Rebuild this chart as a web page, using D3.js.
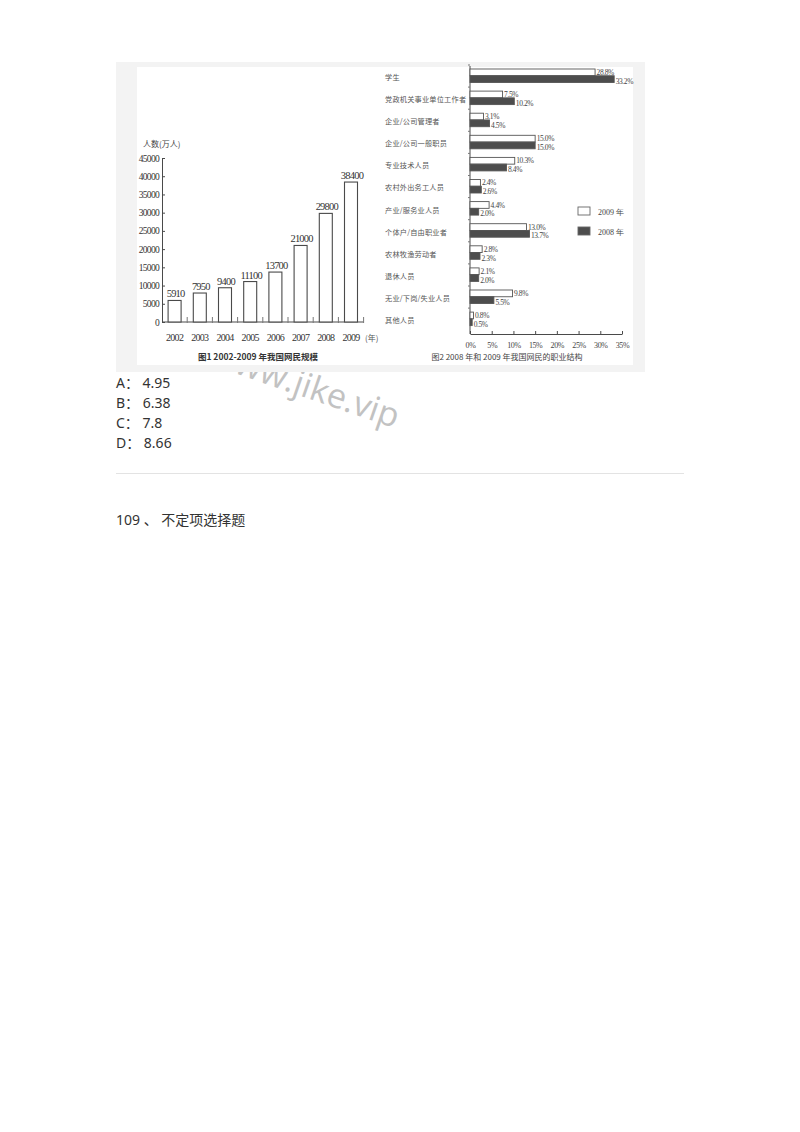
<!DOCTYPE html>
<html>
<head>
<meta charset="utf-8">
<title>网民规模与职业结构</title>
<style>
    body { margin: 0; background: #fff; }
    svg { display: block; }
    .serif { font-family: "Liberation Serif", "DejaVu Serif", serif; }
    .cjk { font-family: "Noto Sans CJK SC", sans-serif; }
    .page { font-family: "Noto Sans", "Noto Sans CJK SC", sans-serif; fill: #333; font-size: 14px; }
</style>
</head>
<body>
<svg width="800" height="1132"></svg>
<script src="https://d3js.org/d3.v7.min.js"></script>
<script>
    // figure 1: netizens 2002-2009 (10k people)
    var years = ["2002", "2003", "2004", "2005", "2006", "2007", "2008", "2009"];
    var users = [5910, 7950, 9400, 11100, 13700, 21000, 29800, 38400];
    var userTicks = [0, 5000, 10000, 15000, 20000, 25000, 30000, 35000, 40000, 45000];

    // figure 2: occupation structure, 2009 vs 2008 (%)
    var jobs = ["学生", "党政机关事业单位工作者", "企业/公司管理者", "企业/公司一般职员",
        "专业技术人员", "农村外出务工人员", "产业/服务业人员", "个体户/自由职业者",
        "农林牧渔劳动者", "退休人员", "无业/下岗/失业人员", "其他人员"];
    var share2009 = [28.8, 7.5, 3.1, 15.0, 10.3, 2.4, 4.4, 13.0, 2.8, 2.1, 9.8, 0.8];
    var share2008 = [33.2, 10.2, 4.5, 15.0, 8.4, 2.6, 2.0, 13.7, 2.3, 2.0, 5.5, 0.5];
    var pctTicks = [0, 5, 10, 15, 20, 25, 30, 35];
    var seriesNames = ["2009", "2008"];

    // question options below the picture
    var options = ["A： 4.95", "B： 6.38", "C： 7.8", "D： 8.66"];

    var svg = d3.select("svg");
    var ink = "#4a4a4a";

    // watermark sits under the scanned picture
    svg.append("text")
        .attr("transform", "translate(208,364) rotate(19)")
        .attr("font-family", "Open Sans, sans-serif")
        .attr("font-size", 34)
        .attr("fill", "#c2c2c2")
        .text("www.jike.vip");

    // picture frame
    svg.append("rect").attr("x", 116).attr("y", 62).attr("width", 529).attr("height", 310).attr("fill", "#f3f3f3");
    svg.append("rect").attr("x", 137).attr("y", 67).attr("width", 496).attr("height", 298).attr("fill", "#fff");

    // ---------- figure 1 ----------
    var x = d3.scaleBand().domain(years).range([162, 363.6]).paddingInner(0.484).paddingOuter(0.242);
    var y = d3.scaleLinear().domain([0, 45000]).range([322, 158]);

    var g1 = svg.append("g");

    var yAxis = d3.axisLeft(y).tickValues(userTicks).tickFormat(d3.format("d"))
        .tickSize(-3).tickSizeOuter(0).tickPadding(3);
    g1.append("g").attr("transform", "translate(162,0)").call(yAxis)
        .call(function(g) {
            g.select(".domain").attr("stroke", ink);
            g.selectAll(".tick line").attr("stroke", ink);
            g.selectAll("text").attr("class", "serif").attr("font-size", 9.5)
                .attr("letter-spacing", -0.7).attr("fill", "#333");
        });

    // x baseline and small ticks between the bars
    g1.append("line").attr("x1", x.range()[0]).attr("x2", x.range()[1])
        .attr("y1", y(0)).attr("y2", y(0)).attr("stroke", ink);
    g1.selectAll(".sep").data(years).enter().append("line")
        .attr("x1", function(d, i) { return x.range()[0] + (i + 1) * x.step(); })
        .attr("x2", function(d, i) { return x.range()[0] + (i + 1) * x.step(); })
        .attr("y1", y(0) - 5).attr("y2", y(0) + 1)
        .attr("stroke", "#777");

    g1.selectAll(".bar").data(users).enter().append("rect")
        .attr("x", function(d, i) { return x(years[i]); })
        .attr("y", function(d) { return y(d); })
        .attr("width", x.bandwidth())
        .attr("height", function(d) { return y(0) - y(d); })
        .attr("fill", "#fff").attr("stroke", ink).attr("stroke-width", 1.1);

    g1.selectAll(".val").data(users).enter().append("text")
        .attr("class", "serif")
        .attr("x", function(d, i) { return x(years[i]) + x.bandwidth() / 2 + 1; })
        .attr("y", function(d) { return y(d) - 3; })
        .attr("text-anchor", "middle").attr("font-size", 10.5).attr("letter-spacing", -0.8)
        .attr("fill", "#333")
        .text(function(d) { return d; });

    g1.selectAll(".yr").data(years).enter().append("text")
        .attr("class", "serif")
        .attr("x", function(d) { return x(d) + x.bandwidth() / 2; })
        .attr("y", 341)
        .attr("text-anchor", "middle").attr("font-size", 10).attr("letter-spacing", -0.7)
        .attr("fill", "#333")
        .text(function(d) { return d; });

    g1.append("text").attr("class", "cjk").attr("x", 365).attr("y", 341)
        .attr("font-size", 8).attr("fill", "#555").text("(年)");

    g1.append("text").attr("class", "cjk").attr("x", 143).attr("y", 147)
        .attr("font-size", 8).attr("fill", "#444").text("人数(万人)");

    g1.append("text").attr("class", "cjk").attr("x", 258).attr("y", 360)
        .attr("text-anchor", "middle").attr("font-size", 8.5).attr("font-weight", "bold")
        .attr("fill", "#333").text("图1  2002-2009 年我国网民规模");

    // ---------- figure 2 ----------
    var xr = d3.scaleLinear().domain([0, 35]).range([470, 622]);
    var yr = d3.scaleBand().domain(jobs).range([64, 64 + jobs.length * 22.1]);
    var sub = d3.scaleBand().domain(seriesNames).range([5, 18.5]);

    var g2 = svg.append("g");

    g2.append("line").attr("x1", xr(0)).attr("x2", xr(0)).attr("y1", 66).attr("y2", 334)
        .attr("stroke", ink);
    g2.selectAll(".rt").data(jobs).enter().append("line")
        .attr("x1", xr(0) - 2).attr("x2", xr(0))
        .attr("y1", function(d) { return yr(d) + 1; })
        .attr("y2", function(d) { return yr(d) + 1; })
        .attr("stroke", "#777");

    var xAxis = d3.axisBottom(xr).tickValues(pctTicks).tickSize(-3).tickSizeOuter(0).tickPadding(8)
        .tickFormat(function(d) { return d + "%"; });
    g2.append("g").attr("transform", "translate(0,334)").call(xAxis)
        .call(function(g) {
            g.select(".domain").attr("stroke", ink);
            g.selectAll(".tick line").attr("stroke", ink);
            g.selectAll("text").attr("class", "serif").attr("font-size", 8)
                .attr("letter-spacing", -0.4).attr("fill", "#444");
        });

    g2.selectAll(".job").data(jobs).enter().append("text")
        .attr("class", "cjk")
        .attr("x", 385)
        .attr("y", function(d) { return yr(d) + 14; })
        .attr("dominant-baseline", "middle")
        .attr("font-size", 7.2).attr("letter-spacing", 0.2).attr("fill", "#555")
        .text(function(d) { return d; });

    var series = [
        { name: "2009", values: share2009, fill: "#fff", dy: -0.8 },
        { name: "2008", values: share2008, fill: "#4d4d4d", dy: 1.2 }
    ];

    series.forEach(function(s) {
        g2.selectAll(".b" + s.name).data(s.values).enter().append("rect")
            .attr("x", xr(0))
            .attr("y", function(d, i) { return yr(jobs[i]) + sub(s.name); })
            .attr("width", function(d) { return xr(d) - xr(0); })
            .attr("height", sub.bandwidth())
            .attr("fill", s.fill).attr("stroke", "#555").attr("stroke-width", 0.9);

        g2.selectAll(".l" + s.name).data(s.values).enter().append("text")
            .attr("class", "serif")
            .attr("x", function(d) { return xr(d) + 1.5; })
            .attr("y", function(d, i) { return yr(jobs[i]) + sub(s.name) + sub.bandwidth() + s.dy; })
            .attr("font-size", 7.5).attr("letter-spacing", -0.4).attr("fill", "#444")
            .text(function(d) { return d.toFixed(1) + "%"; });
    });

    // legend
    var legend = g2.append("g").attr("transform", "translate(578,207)");
    series.forEach(function(s, i) {
        legend.append("rect").attr("x", 0).attr("y", i * 20).attr("width", 12).attr("height", 8)
            .attr("fill", s.fill).attr("stroke", "#666").attr("stroke-width", 0.9);
        legend.append("text").attr("class", "serif").attr("x", 20).attr("y", i * 20 + 7.5)
            .attr("font-size", 8).attr("fill", "#444").text(s.name + " 年");
    });

    g2.append("text").attr("class", "cjk").attr("x", 507).attr("y", 360)
        .attr("text-anchor", "middle").attr("font-size", 8).attr("fill", "#444")
        .text("图2  2008 年和 2009 年我国网民的职业结构");

    // ---------- page text ----------
    svg.selectAll(".opt").data(options).enter().append("text")
        .attr("class", "page")
        .attr("x", 116)
        .attr("y", function(d, i) { return 388 + i * 20; })
        .text(function(d) { return d; });

    svg.append("line").attr("x1", 116).attr("x2", 684).attr("y1", 473.5).attr("y2", 473.5)
        .attr("stroke", "#e3e3e3");

    svg.append("text").attr("class", "page").attr("x", 116).attr("y", 525)
        .text("109 、 不定项选择题");
</script>
</body>
</html>
